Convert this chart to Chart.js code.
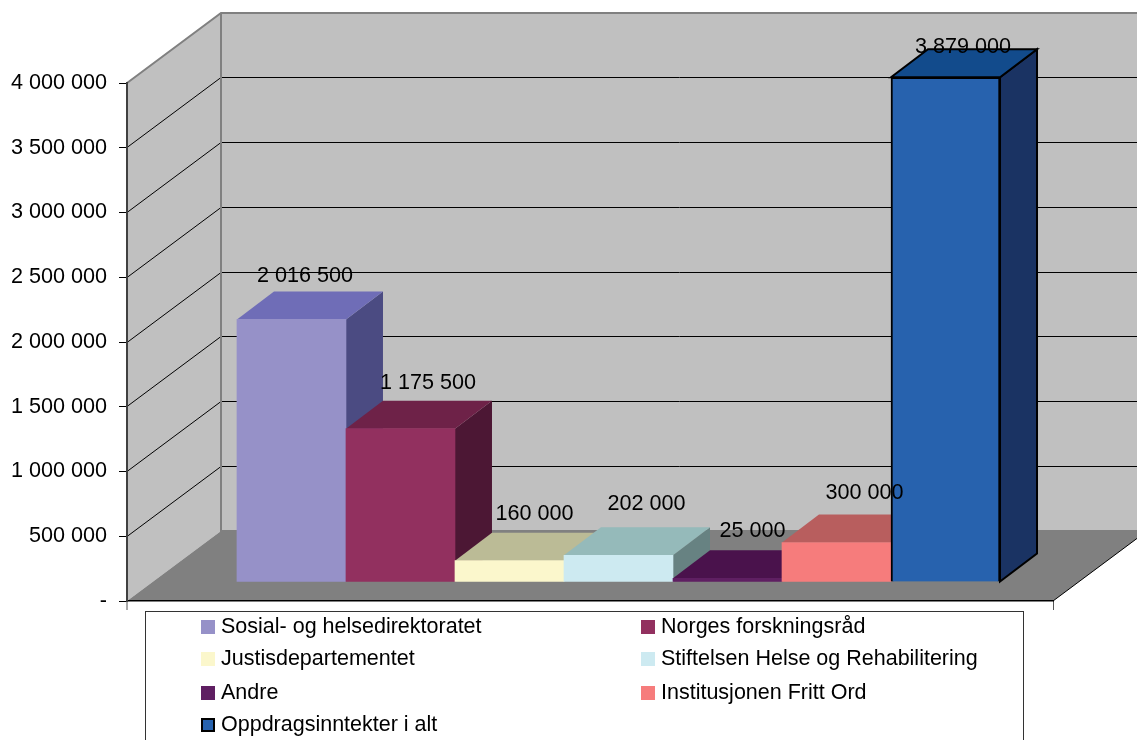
<!DOCTYPE html>
<html>
<head>
<meta charset="utf-8">
<style>html,body{margin:0;padding:0;background:#fff}canvas{display:block}</style>
<script src="https://cdn.jsdelivr.net/npm/chart.js@4"></script>
</head>
<body>
<canvas id="c" width="1137" height="740" style="width:1137px;height:740px"></canvas>
<script>
const categories = ["Sosial- og helsedirektoratet","Norges forskningsråd","Justisdepartementet","Stiftelsen Helse og Rehabilitering","Andre","Institusjonen Fritt Ord","Oppdragsinntekter i alt"];
const values = [2016500,1175500,160000,202000,25000,300000,3879000];
const frontColors = ["#9691C8","#92305F","#FBF7CC","#CDEAF1","#5F1F62","#F67C7C","#2762AE"];
const topColors = ["#6F6DB7","#6E2248","#BBBB96","#95BABA","#4A124C","#B85E5E","#124B8C"];
const sideColors = ["#4B4B82","#4C1734","#8C8C70","#678282","#35103A","#8A4646","#1A3363"];
const borderWidths = [0,0,0,0,0,0,2];
const labelDx = [13.5,27.5,25,28,25,28,17.5];
const labelDy = [-42.9,-45.2,-46.2,-50.7,-47.1,-49.2,-29.8];
const legendRows = [627,659,693,725];

const FONT = '"Liberation Sans", Arial, sans-serif';
const WALL = {dx:94, dy:-70};
const BAR_SHIFT = {dx:28, dy:-19.5};
const DEPTH = {dx:37, dy:-28};
const fmt = v => v === 0 ? '-' : String(v).replace(/\B(?=(\d{3})+$)/g,' ');

function poly(ctx, pts, fill, stroke, lw){
  ctx.beginPath();
  pts.forEach((p,i)=> i ? ctx.lineTo(p[0],p[1]) : ctx.moveTo(p[0],p[1]));
  ctx.closePath();
  if(fill){ctx.fillStyle=fill;ctx.fill();}
  if(stroke){ctx.strokeStyle=stroke;ctx.lineWidth=lw||1;ctx.stroke();}
}

const scene = {
  id:'scene',
  beforeDraw(chart){
    const {ctx,chartArea:a,scales:{y}} = chart;
    const L=a.left,R=a.right,B=a.bottom,T=a.top,dx=WALL.dx,dy=WALL.dy;
    ctx.save();
    ctx.fillStyle='#fff';ctx.fillRect(0,0,chart.width,chart.height);
    poly(ctx,[[L,T],[L+dx,T+dy],[L+dx,B+dy],[L,B]],'#C0C0C0');
    poly(ctx,[[L+dx,T+dy],[R+dx,T+dy],[R+dx,B+dy],[L+dx,B+dy]],'#C0C0C0');
    poly(ctx,[[L,B],[L+dx,B+dy],[R+dx,B+dy],[R,B]],'#808080');
    ctx.strokeStyle='#000';ctx.lineWidth=1;
    y.ticks.forEach(t=>{
      if(t.value===0||t.value===y.max) return;
      const p=Math.floor(y.getPixelForValue(t.value))+0.5;
      ctx.beginPath();ctx.moveTo(L,p);ctx.lineTo(L+dx,p+dy);ctx.lineTo(R+dx,p+dy);ctx.stroke();
    });
    ctx.strokeStyle='#808080';ctx.lineWidth=2;
    ctx.beginPath();ctx.moveTo(L,T);ctx.lineTo(L+dx,T+dy);ctx.lineTo(R+dx,T+dy);
    ctx.moveTo(L+dx,T+dy);ctx.lineTo(L+dx,B+dy);ctx.lineTo(R+dx,B+dy);ctx.stroke();
    ctx.strokeStyle='#000';ctx.lineWidth=1;
    ctx.beginPath();ctx.moveTo(R,B);ctx.lineTo(R+dx,B+dy);ctx.stroke();
    ctx.strokeStyle='#555';ctx.lineWidth=1;
    ctx.beginPath();ctx.moveTo(L,B);ctx.lineTo(L,B+9);ctx.moveTo(R+0.5,B);ctx.lineTo(R+0.5,B+9);ctx.stroke();
    ctx.restore();
  },
  beforeDatasetDraw(chart,args){
    const ctx=chart.ctx;
    ctx.save();
    ctx.translate(BAR_SHIFT.dx,BAR_SHIFT.dy);
    const meta=args.meta;
    meta.data.forEach((el,i)=>{
      const w=el.width,x0=el.x-w/2,x1=el.x+w/2,t=el.y,b=el.base,dx=DEPTH.dx,dy=DEPTH.dy;
      const bw=borderWidths[i],st=bw?'#000':null;
      poly(ctx,[[x1,t],[x1+dx,t+dy],[x1+dx,b+dy],[x1,b]],sideColors[i],st,bw);
      poly(ctx,[[x0,t],[x0+dx,t+dy],[x1+dx,t+dy],[x1,t]],topColors[i],st,bw);
    });
  },
  afterDatasetDraw(chart){ chart.ctx.restore(); },
  afterDatasetsDraw(chart){
    const ctx=chart.ctx,meta=chart.getDatasetMeta(0);
    ctx.save();
    ctx.font='21.6px '+FONT;ctx.fillStyle='#000';ctx.textAlign='center';ctx.textBaseline='middle';
    meta.data.forEach((el,i)=>{
      ctx.fillText(fmt(values[i]),el.x+BAR_SHIFT.dx+labelDx[i],el.y+BAR_SHIFT.dy+labelDy[i]);
    });
    ctx.restore();
    // legend box
    ctx.save();
    ctx.strokeStyle='#333';ctx.lineWidth=1;
    ctx.strokeRect(145.5,611.5,878,140);
    ctx.font='21.5px '+FONT;ctx.textAlign='left';ctx.textBaseline='middle';
    categories.forEach((name,i)=>{
      const col=i%2,row=Math.floor(i/2),cy=legendRows[row];
      const mx=col?641:201,tx=col?661:221;
      ctx.fillStyle=frontColors[i];
      ctx.fillRect(mx,cy-7,14,14);
      if(borderWidths[i]){ctx.strokeStyle='#000';ctx.lineWidth=2;ctx.strokeRect(mx+1,cy-6,12,12);}
      ctx.fillStyle='#000';
      ctx.fillText(name,tx,cy);
    });
    ctx.restore();
  }
};

new Chart(document.getElementById('c'),{
  type:'bar',
  data:{
    labels:categories,
    datasets:[{
      label:'Oppdragsinntekter',
      yAxisID:'yBars',
      data:values.map((v,i)=>({x:i,y:v})),
      backgroundColor:frontColors,
      borderColor:'#000',
      borderWidth:borderWidths,
      barPercentage:1,
      categoryPercentage:1,
      clip:false
    }]
  },
  plugins:[scene],
  options:{
    responsive:false,
    animation:false,
    devicePixelRatio:1,
    layout:{padding:{top:83,right:84,left:0,bottom:0}},
    plugins:{legend:{display:false},tooltip:{enabled:false},title:{display:false}},
    scales:{
      x:{type:'linear',offset:false,min:-1.252,max:7.243,
        afterFit:s=>{s.height=139;},
        grid:{display:false},
        border:{display:true,color:'#000',width:1.5},
        ticks:{display:false}},
      y:{type:'linear',min:0,max:4000000,
        afterFit:s=>{s.width=127;},
        border:{display:true,color:'#404040',width:2},
        grid:{drawOnChartArea:false,drawTicks:true,tickLength:8,color:'#000'},
        ticks:{stepSize:500000,padding:12,color:'#000',font:{family:'"Liberation Sans"',size:21.6},callback:v=>fmt(v)}},
      yBars:{type:'linear',display:false,min:0,max:3985000}
    }
  }
});
</script>
</body>
</html>
